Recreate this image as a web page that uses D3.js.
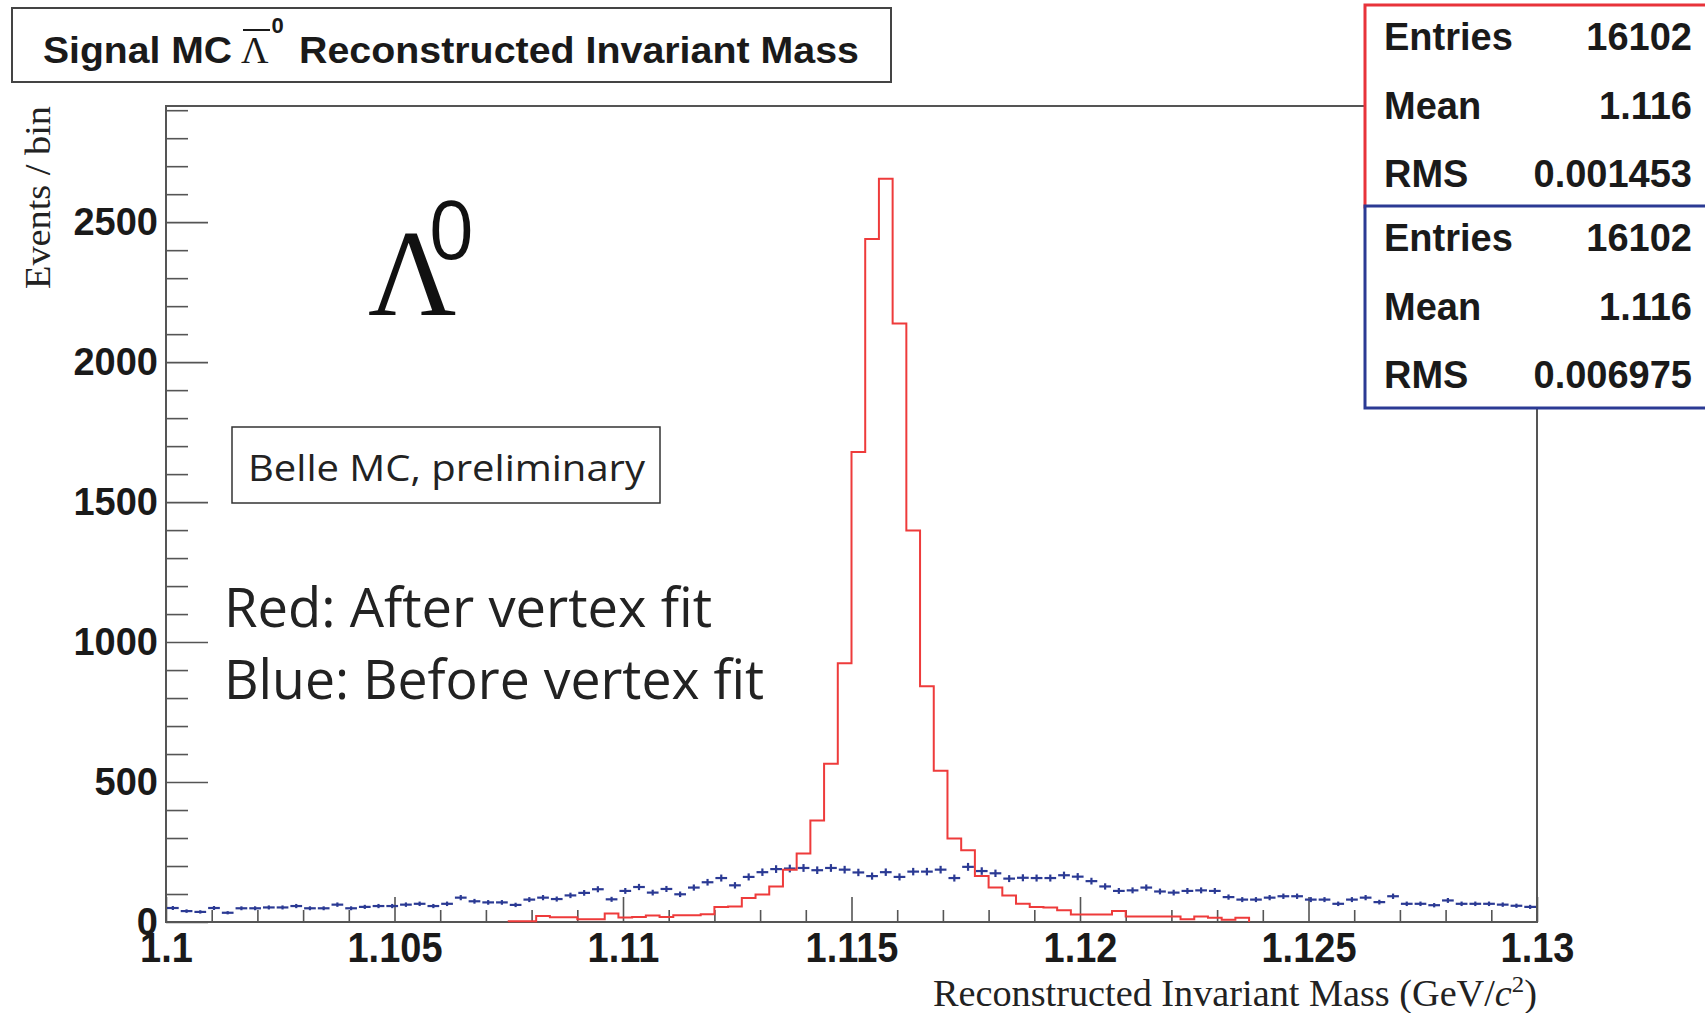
<!DOCTYPE html>
<html>
<head>
<meta charset="utf-8">
<script src="https://cdn.jsdelivr.net/npm/d3@7"></script>
<style>
  body { margin: 0; background: #fff; }
  svg { display: block; }
</style>
</head>
<body>
<div id="chart"></div>
<script>
// histogram definition
const xRange = [1.1, 1.13];
const nBins = 100;
const yMax = 2915;
const xMajorTicks = [1.1, 1.105, 1.11, 1.115, 1.12, 1.125, 1.13];
const xTickLabels = ['1.1', '1.105', '1.11', '1.115', '1.12', '1.125', '1.13'];
const yMajorTicks = [0, 500, 1000, 1500, 2000, 2500];

// after vertex fit (red), counts per bin
const redCounts = [
  0, 0, 0, 0, 0, 0, 0, 0, 0, 0,
  0, 0, 0, 0, 0, 0, 0, 0, 0, 0,
  0, 0, 0, 0, 0, 3, 3, 21, 17, 17,
  10, 10, 30, 16, 18, 23, 18, 24, 24, 28,
  54, 55, 86, 98, 127, 187, 245, 363, 565, 924,
  1679, 2440, 2655, 2138, 1399, 842, 540, 298, 256, 164,
  123, 95, 65, 54, 52, 42, 27, 27, 27, 39,
  20, 20, 20, 20, 10, 20, 15, 8, 15, 0,
  0, 0, 0, 0, 0, 0, 0, 0, 0, 0,
  0, 0, 0, 0, 0, 0, 0, 0, 0, 0
];

// before vertex fit (blue), counts per bin
const blueCounts = [
  50, 39, 36, 50, 33, 49, 49, 52, 52, 57,
  49, 49, 62, 49, 54, 57, 57, 62, 65, 57,
  65, 87, 74, 70, 70, 61, 80, 87, 82, 95,
  104, 117, 81, 111, 125, 105, 118, 99, 123, 142,
  157, 131, 161, 178, 189, 191, 193, 185, 193, 187,
  177, 164, 178, 161, 180, 180, 187, 157, 197, 182,
  174, 155, 158, 157, 157, 167, 162, 146, 127, 111,
  113, 123, 109, 105, 111, 113, 111, 89, 80, 80,
  87, 92, 92, 80, 80, 65, 80, 87, 71, 92,
  65, 65, 60, 77, 65, 65, 65, 62, 58, 54
];

const statsRed = [['Entries', '16102'], ['Mean', '1.116'], ['RMS', '0.001453']];
const statsBlue = [['Entries', '16102'], ['Mean', '1.116'], ['RMS', '0.006975']];

const W = 1705, H = 1013;
const red = '#ee3b3b', blue = '#2b3a94', frameGrey = '#555';
const sans = "'Liberation Sans', Arial, sans-serif";
const serif = "'Liberation Serif', 'Times New Roman', serif";
const myriad = "'Open Sans', 'Noto Sans', sans-serif";

const svg = d3.select('#chart').append('svg')
  .attr('width', W)
  .attr('height', H);

const x = d3.scaleLinear(xRange, [166, 1537]);
const y = d3.scaleLinear([0, yMax], [922, 106]);

const binW = (xRange[1] - xRange[0]) / nBins;
const edges = d3.range(nBins + 1).map(i => xRange[0] + i * binW);

/* frame */
svg.append('rect')
  .attr('x', x(xRange[0])).attr('y', y(yMax))
  .attr('width', x(xRange[1]) - x(xRange[0]))
  .attr('height', y(0) - y(yMax))
  .attr('fill', 'none')
  .attr('stroke', frameGrey)
  .attr('stroke-width', 2);

/* y axis: major + minor ticks pointing inward */
const yMinor = d3.range(100, yMax, 100).filter(v => v % 500 !== 0);
svg.append('g')
  .attr('transform', `translate(${x(xRange[0])},0)`)
  .call(d3.axisLeft(y).tickValues(yMinor).tickSizeInner(-22).tickSizeOuter(0).tickFormat(''))
  .call(g => g.select('.domain').remove());
svg.append('g')
  .attr('class', 'yaxis')
  .attr('transform', `translate(${x(xRange[0])},0)`)
  .call(d3.axisLeft(y).tickValues(yMajorTicks).tickSizeInner(-42).tickSizeOuter(0).tickPadding(8).tickFormat(d3.format('d')))
  .call(g => g.select('.domain').remove());

/* x axis */
const xMinor = d3.range(0, 31).map(i => xRange[0] + i * 0.001).filter((v, i) => i % 5 !== 0);
svg.append('g')
  .attr('transform', `translate(0,${y(0)})`)
  .call(d3.axisBottom(x).tickValues(xMinor).tickSizeInner(-12).tickSizeOuter(0).tickFormat(''))
  .call(g => g.select('.domain').remove());
svg.append('g')
  .attr('class', 'xaxis')
  .attr('transform', `translate(0,${y(0)})`)
  .call(d3.axisBottom(x).tickValues(xMajorTicks).tickSizeInner(-25).tickSizeOuter(0).tickFormat((d, i) => xTickLabels[i]))
  .call(g => g.select('.domain').remove())
  .call(g => g.selectAll('text')
    .attr('y', null).attr('dy', null)
    .attr('transform', 'translate(0,40) scale(1,1.12)'));

svg.selectAll('.tick line').attr('stroke', frameGrey).attr('stroke-width', 1.6);
svg.selectAll('.yaxis text, .xaxis text')
  .attr('fill', '#1a1a1a')
  .style('font-family', sans)
  .style('font-weight', 'bold')
  .style('font-size', '38px');

/* blue: points with error bars */
const blueG = svg.append('g')
  .attr('stroke', blue)
  .attr('stroke-width', 2.2);
blueG.selectAll('line.h')
  .data(blueCounts)
  .join('line')
  .attr('class', 'h')
  .attr('x1', (d, i) => x(edges[i]) + 1)
  .attr('x2', (d, i) => x(edges[i + 1]) - 1)
  .attr('y1', d => y(d))
  .attr('y2', d => y(d));
blueG.selectAll('line.v')
  .data(blueCounts)
  .join('line')
  .attr('class', 'v')
  .attr('x1', (d, i) => x((edges[i] + edges[i + 1]) / 2))
  .attr('x2', (d, i) => x((edges[i] + edges[i + 1]) / 2))
  .attr('y1', d => y(d - Math.sqrt(d)))
  .attr('y2', d => y(d + Math.sqrt(d)));

/* red: step histogram over the filled range */
const first = redCounts.findIndex(v => v > 0);
const last = redCounts.length - 1 - [...redCounts].reverse().findIndex(v => v > 0);
const redPts = [[edges[first], 0]];
for (let i = first; i <= last; i++) redPts.push([edges[i], redCounts[i]]);
redPts.push([edges[last + 1], 0]);
svg.append('path')
  .attr('d', d3.line().x(d => x(d[0])).y(d => y(d[1])).curve(d3.curveStepAfter)(redPts))
  .attr('fill', 'none')
  .attr('stroke', red)
  .attr('stroke-width', 2);

/* axis titles */
svg.append('text')
  .attr('transform', 'translate(50,106) rotate(-90)')
  .attr('text-anchor', 'end')
  .attr('textLength', 183)
  .attr('lengthAdjust', 'spacingAndGlyphs')
  .style('font-family', serif)
  .style('font-size', '36px')
  .attr('fill', '#222')
  .text('Events / bin');

const xTitle = svg.append('text')
  .attr('x', 1537).attr('y', 1006)
  .attr('text-anchor', 'end')
  .attr('textLength', 604)
  .attr('lengthAdjust', 'spacingAndGlyphs')
  .style('font-family', serif)
  .style('font-size', '37px')
  .attr('fill', '#222');
xTitle.append('tspan').text('Reconstructed Invariant Mass (GeV/');
xTitle.append('tspan').style('font-style', 'italic').text('c');
xTitle.append('tspan').attr('dy', -14).style('font-size', '24px').text('2');
xTitle.append('tspan').attr('dy', 14).text(')');

/* title box */
svg.append('rect')
  .attr('x', 12).attr('y', 8).attr('width', 879).attr('height', 74)
  .attr('fill', '#fff').attr('stroke', '#444').attr('stroke-width', 2);
const titleStyle = t => t.style('font-family', sans).style('font-weight', 'bold')
  .style('font-size', '37px').attr('fill', '#1a1a1a').attr('lengthAdjust', 'spacingAndGlyphs');
svg.append('text').attr('x', 43).attr('y', 63).attr('textLength', 189).call(titleStyle).text('Signal MC');
const lam = svg.append('text').attr('x', 241).attr('y', 63)
  .style('font-family', serif).style('font-size', '38px').attr('fill', '#1a1a1a');
lam.append('tspan').text('\u039B');
lam.append('tspan').attr('dx', 3).attr('dy', -30)
  .style('font-family', sans).style('font-weight', 'bold').style('font-size', '22px').text('0');
svg.append('line').attr('x1', 243).attr('x2', 270).attr('y1', 30).attr('y2', 30)
  .attr('stroke', '#1a1a1a').attr('stroke-width', 2);
svg.append('text').attr('x', 299).attr('y', 63).attr('textLength', 560).call(titleStyle).text('Reconstructed Invariant Mass');

/* stats boxes */
function statsBox(rows, top, color) {
  const g = svg.append('g');
  g.append('rect')
    .attr('x', 1365).attr('y', top).attr('width', 400).attr('height', 202)
    .attr('fill', '#fff').attr('stroke', color).attr('stroke-width', 3);
  rows.forEach((r, i) => {
    const base = top + 45 + i * 68.5;
    g.append('text').attr('x', 1384).attr('y', base)
      .style('font-family', sans).style('font-weight', 'bold').style('font-size', '38px')
      .attr('fill', '#1a1a1a').text(r[0]);
    g.append('text').attr('x', 1692).attr('y', base).attr('text-anchor', 'end')
      .style('font-family', sans).style('font-weight', 'bold').style('font-size', '38px')
      .attr('fill', '#1a1a1a').text(r[1]);
  });
}
statsBox(statsRed, 5, '#e8333a');
statsBox(statsBlue, 206, blue);

/* annotations: big Lambda with superscript 0 as one text */
const bigLam = svg.append('text').attr('x', 368).attr('y', 315)
  .style('font-family', serif).style('font-size', '122px').attr('fill', '#111');
bigLam.append('tspan').text('\u039B');
bigLam.append('tspan').attr('dx', -28).attr('dy', -56)
  .style('font-family', myriad).style('font-size', '80px').text('0');

svg.append('rect')
  .attr('x', 232).attr('y', 427).attr('width', 428).attr('height', 76)
  .attr('fill', '#fff').attr('stroke', '#333').attr('stroke-width', 1.5);
svg.append('text').attr('x', 248).attr('y', 481)
  .attr('textLength', 397).attr('lengthAdjust', 'spacingAndGlyphs')
  .style('font-family', myriad).style('font-size', '36px').attr('fill', '#222')
  .text('Belle MC, preliminary');

svg.append('text').attr('x', 224).attr('y', 627)
  .attr('textLength', 488).attr('lengthAdjust', 'spacingAndGlyphs')
  .style('font-family', myriad).style('font-size', '54px').attr('fill', '#222')
  .text('Red: After vertex fit');
svg.append('text').attr('x', 224).attr('y', 699)
  .attr('textLength', 540).attr('lengthAdjust', 'spacingAndGlyphs')
  .style('font-family', myriad).style('font-size', '54px').attr('fill', '#222')
  .text('Blue: Before vertex fit');
</script>
</body>
</html>
